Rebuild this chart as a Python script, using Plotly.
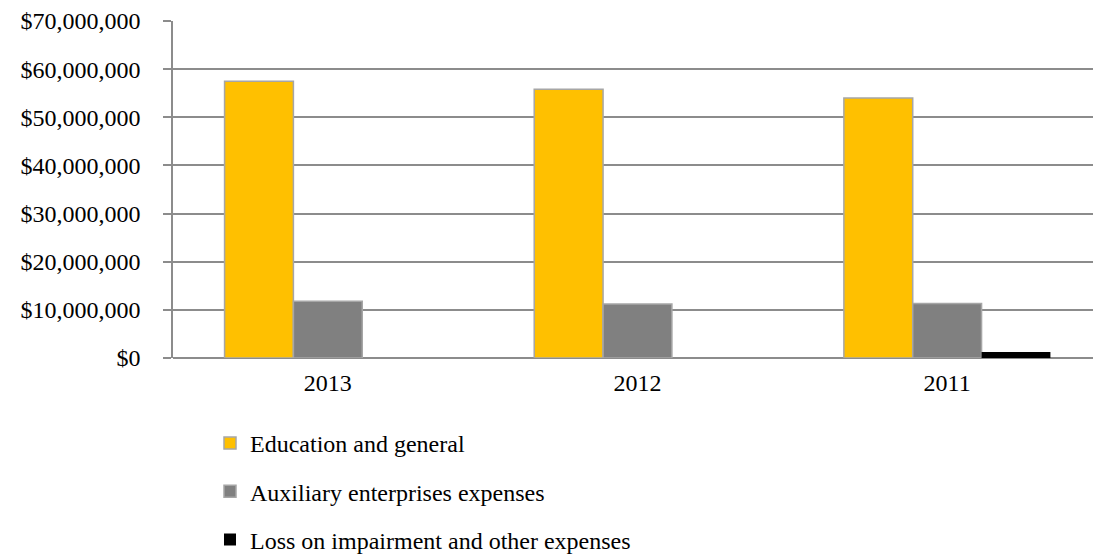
import plotly.graph_objects as go

years = ["2013", "2012", "2011"]
education = [57500000, 55800000, 54000000]
auxiliary = [11800000, 11200000, 11300000]
loss = [0, 0, 1250000]
series_names = ["Education and general", "Auxiliary enterprises expenses", "Loss on impairment and other expenses"]
colors = ["#FFC000", "#808080", "#000000"]
tick_vals = [0, 10000000, 20000000, 30000000, 40000000, 50000000, 60000000, 70000000]
tick_text = ["$0", "$10,000,000", "$20,000,000", "$30,000,000", "$40,000,000", "$50,000,000", "$60,000,000", "$70,000,000"]

fig = go.Figure()
for i, (name, vals) in enumerate(zip(series_names, [education, auxiliary, loss])):
    fig.add_trace(go.Bar(
        x=years, y=vals, name=name, legendgroup=name,
        marker=dict(color=colors[i],
                    line=dict(color="#A6A6A6" if i < 2 else "#000000", width=1.5 if i < 2 else 0)),
    ))

font = dict(family="Liberation Serif, Times New Roman, serif", size=24, color="#000000")
fig.update_layout(
    width=1093, height=557,
    barmode="group", bargap=0.333, bargroupgap=0,
    plot_bgcolor="white", paper_bgcolor="white",
    font=font,
    margin=dict(l=173, r=0, t=21, b=199, autoexpand=False),
    xaxis=dict(range=[-0.5, 2.471], showgrid=False, showline=False, ticks="",
               tickfont=font, zeroline=False, fixedrange=True, automargin=False,
               ticklabelstandoff=8),
    yaxis=dict(range=[0, 70000000], tickvals=tick_vals, ticktext=tick_text,
               showgrid=True, gridcolor="#8C8C8C", gridwidth=1.5,
               showline=True, linecolor="#8C8C8C", linewidth=1.5,
               ticks="outside", ticklen=8, tickcolor="#8C8C8C", tickwidth=1.5,
               ticklabelstandoff=18, automargin=False,
               zeroline=True, zerolinecolor="#8C8C8C", zerolinewidth=1.5,
               tickfont=font),
    showlegend=True,
    legend=dict(orientation="v", x=210/1093, xref="container", xanchor="left",
                y=1 - 421/557, yref="container", yanchor="top",
                traceorder="grouped", tracegroupgap=14, font=font,
                itemwidth=30, bgcolor="rgba(0,0,0,0)"),
)

fig.write_html("out.html")
